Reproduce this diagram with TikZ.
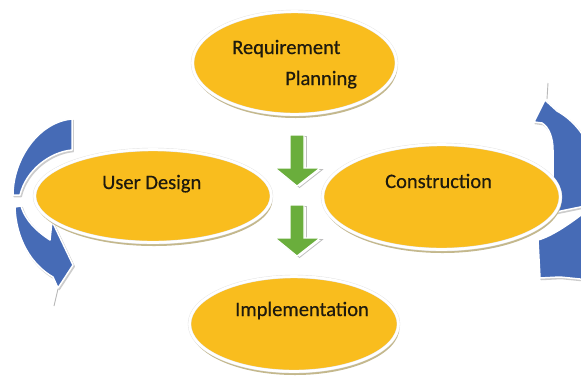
\documentclass[tikz,border=0pt]{standalone}
\usepackage{fontspec}
\setmainfont{Carlito}
\newfontfamily\captionfont[FakeBold=0.5]{Carlito}
\usetikzlibrary{shapes.geometric,shadows}
\definecolor{gold}{RGB}{249,189,30}
\definecolor{khaki}{RGB}{196,184,140}
\definecolor{ringblue}{RGB}{70,107,182}
\definecolor{leafgreen}{RGB}{106,174,60}
\definecolor{ink}{RGB}{30,26,14}

% outline of a downward block arrow, origin at the top of the shaft
\newcommand\blockdownpath{(-7,0) -- (7,0) -- (7,33) -- (23,33) -- (0,51) -- (-22,33) -- (-7,33) -- cycle}

\begin{document}
\begin{tikzpicture}[x=1pt,y=-1pt,
  phase/.style={ellipse, inner sep=0pt, fill=gold,
    draw=gray!22, double=white, double distance=2.6pt, line width=0.4pt,
    drop shadow={shadow xshift=1pt, shadow yshift=-3.5pt, fill=khaki, opacity=1}},
  caption/.style={font=\captionfont\fontsize{20.5}{24}\selectfont, text=ink, inner sep=0pt, anchor=base west},
  ringhalo/.style={fill=gray!40, draw=gray!40, line width=1.5pt, line join=round, xshift=1.2pt, yshift=-1.5pt},
  ring/.style={fill=ringblue, draw=white, line width=1.5pt, line join=round},
  greenhalo/.style={fill=white, draw=gray!50, line width=0.8pt, xshift=2.5pt, yshift=-1.5pt},
  greenbody/.style={fill=leafgreen, draw=white, line width=1.2pt},
  blockdown/.pic={
    \path[greenhalo] \blockdownpath;
    \path[greenbody] \blockdownpath;
  }]
\path[use as bounding box] (0,0) rectangle (581,376);
\clip (0,0) rectangle (581,376);
\fill[white] (0,0) rectangle (581,376);

% left cycle arrow
\foreach \st in {ringhalo,ring}{
  \path[\st] (72,119) -- (72,150) .. controls (50,152) and (26,170) .. (20,195)
    -- (13,195) .. controls (13,160) and (38,122) .. (72,119) -- cycle;
  \path[\st] (15,207) .. controls (16,240) and (32,265) .. (53,277) -- (58,288)
    -- (73,265) -- (52,221) -- (50,240) .. controls (38,232) and (26,222) .. (21,206) -- cycle;
}
\draw[gray!55, line width=0.9pt] (58,289) -- (54,306);

% right cycle arrow
\foreach \st in {ringhalo,ring}{
  \path[\st] (545,100) -- (557,111) .. controls (570,118) and (584,132) .. (590,150)
    -- (590,205) -- (556,212) -- (553,190) -- (553,150)
    .. controls (553,138) and (549,127) .. (542,123) -- (534,122) -- cycle;
  \path[\st] (538,240) .. controls (552,236) and (570,224) .. (590,208)
    -- (590,280) -- (560,277) -- (540,278) -- cycle;
}
\draw[gray!55, line width=0.9pt] (548,83) -- (547,99);

% phases
\node[phase, minimum width=204pt, minimum height=103pt] (req) at (294.5,63) {};
\node[phase, minimum width=237pt, minimum height=93pt] (user) at (153,196) {};
\node[phase, minimum width=238pt, minimum height=105pt] (cons) at (441.5,197) {};
\node[phase, minimum width=209pt, minimum height=95pt] (impl) at (294,324) {};

\node[caption] (reqA) at (232,54) {Requirement};
\node[caption] (reqB) at (285,85) {Planning};
\node[caption] (userT) at (102,189) {User Design};
\node[caption] (consT) at (385,188) {Construction};
\node[caption] (implT) at (235,316) {Implementation};

% flow arrows between the phases
\pic (flowA) at (297,135) {blockdown};
\pic (flowB) at (297,205) {blockdown};
\end{tikzpicture}
\end{document}
